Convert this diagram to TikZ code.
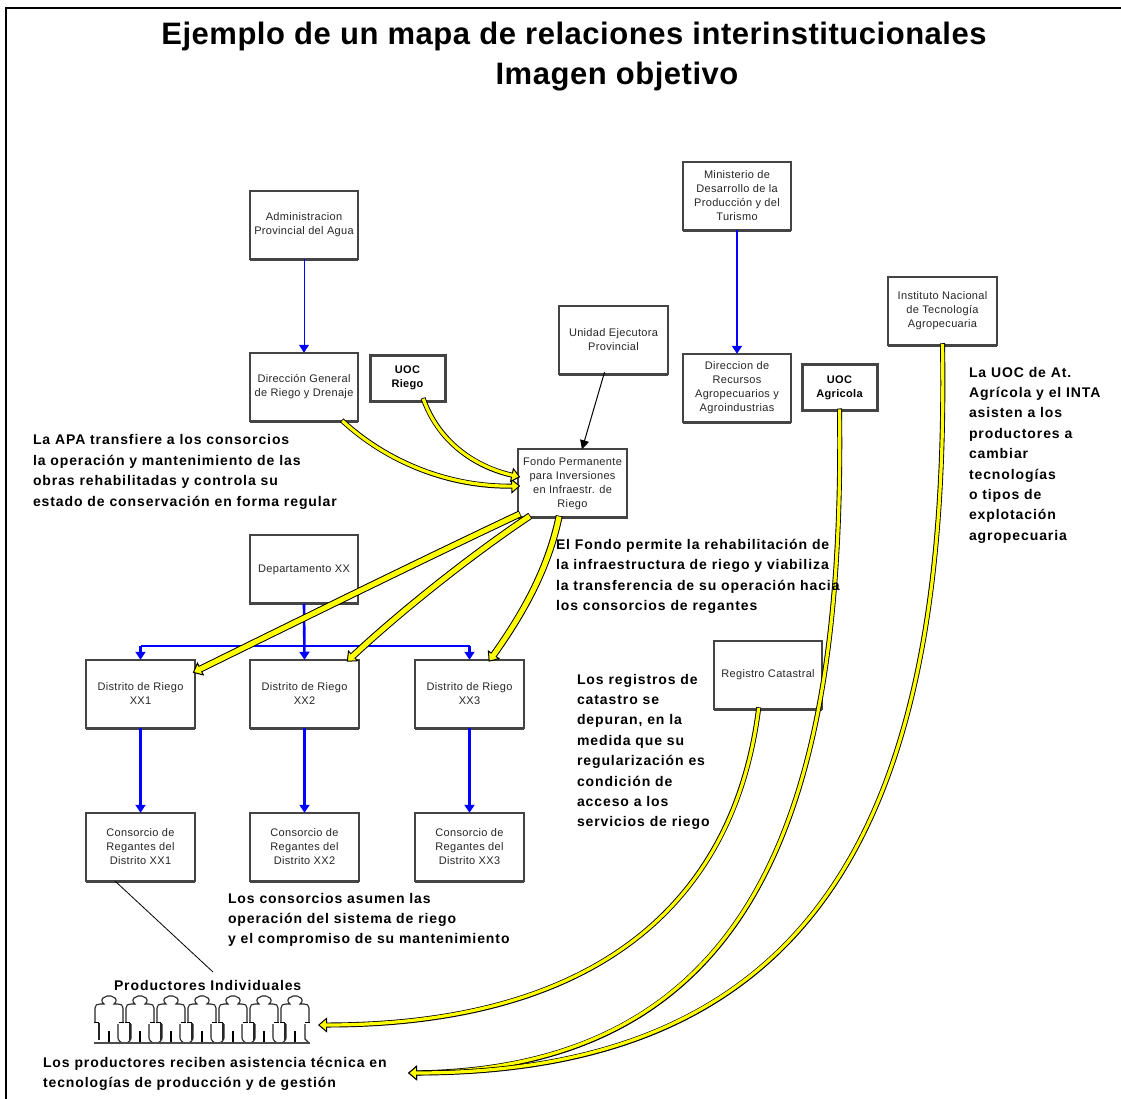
\documentclass[tikz,border=0pt]{standalone}
\usepackage{fontspec}
\usepackage{tikz}
\usetikzlibrary{arrows.meta,calc}
\setmainfont{Liberation Sans}
\newfontfamily\boxf[LetterSpace=3]{Liberation Sans}
\newfontfamily\labf[LetterSpace=6.5]{Liberation Sans}
\newfontfamily\titf[LetterSpace=1.7]{Liberation Sans}
\definecolor{edge}{HTML}{444444}
\definecolor{blu}{HTML}{0000FF}
\definecolor{yel}{HTML}{FFFF00}
\tikzset{
  x=1pt,y=-1pt,
  caja/.style={draw=edge,line width=2.4pt,fill=white,minimum width=108.5pt,minimum height=68.5pt,inner sep=0pt,outer sep=0pt,align=center,text=black!85,font=\boxf\fontsize{11}{14}\selectfont},
  uoc/.style={draw=edge,line width=3pt,fill=white,minimum width=75pt,minimum height=46pt,inner sep=0pt,outer sep=0pt,align=center,font=\boxf\bfseries\fontsize{11}{14}\selectfont},
  lab/.style={inner sep=0pt,outer sep=0pt,align=left,anchor=north west,font=\labf\bfseries\fontsize{14}{20.4}\selectfont},
  tit/.style={inner sep=0pt,anchor=center,font=\titf\bfseries\fontsize{31}{34}\selectfont},
  azul/.style={draw=blu,line width=2.6pt,-{Triangle[length=8pt,width=10pt,fill=blu]}},
  azulsin/.style={draw=blu,line width=2.2pt},
  azulfino/.style={draw=blu,line width=1pt,-{Triangle[length=8pt,width=10pt,fill=blu]}},
  negra/.style={draw=black,line width=1pt,-{Triangle[length=9pt,width=9pt,fill=black]}},
  yout/.style={draw=black,line width=#1,-{Triangle[length=9pt,width=15pt,fill=yel,color=black,line width=1pt]}},
  yin/.style={draw=yel,line width=#1,shorten >=7pt,shorten <=0.8pt},
  peq/.style={draw=black!85,line width=1.1pt},
}
\newcommand{\yarrow}[1]{\draw[yout=5pt] #1; \draw[yin=3.2pt] #1;}
\newcommand{\yarrowg}[1]{\draw[yout=7pt] #1; \draw[yin=5pt] #1;}
\begin{document}
\begin{tikzpicture}
\useasboundingbox (0,0) rectangle (1121,1099);
\fill[white] (0,0) rectangle (1121,1099);
% frame
\coordinate (fa) at (6,1099); \coordinate (fb) at (6,8); \coordinate (fc) at (1121,8);
\draw[black,line width=1.2pt] (fa) -- (fb) -- (fc);
% title
\node[tit] (t1) at (574,36) {Ejemplo de un mapa de relaciones interinstitucionales};
\node[tit] (t2) at (617,77) {Imagen objetivo};
% boxes
\node[caja] (adm) at (304,225) {Administracion\\Provincial del Agua};
\node[caja] (dgr) at (304,387) {Dirección General\\de Riego y Drenaje};
\node[uoc] (uor) at (407.5,378) {UOC\\Riego};
\node[caja] (fon) at (572.5,483.5) {Fondo Permanente\\para Inversiones\\en Infraestr. de\\Riego};
\node[caja] (uni) at (613.5,340) {Unidad Ejecutora\\Provincial};
\node[caja] (min) at (737,196) {Ministerio de\\Desarrollo de la\\Producción y del\\Turismo};
\node[caja] (dre) at (737,388) {Direccion de\\Recursos\\Agropecuarios y\\Agroindustrias};
\node[uoc] (uoa) at (839.5,387.5) {UOC\\Agricola};
\node[caja] (ita) at (942.5,311) {Instituto Nacional\\de Tecnología\\Agropecuaria};
\node[caja] (reg) at (768,675) {Registro Catastral};
\node[caja] (dep) at (304,569.5) {Departamento XX};
\node[caja] (d1) at (140.5,694) {Distrito de Riego\\XX1};
\node[caja] (d2) at (304.5,694) {Distrito de Riego\\XX2};
\node[caja] (d3) at (469.5,694) {Distrito de Riego\\XX3};
\node[caja] (c1) at (140.5,847) {Consorcio de\\Regantes del\\Distrito XX1};
\node[caja] (c2) at (304.5,847) {Consorcio de\\Regantes del\\Distrito XX2};
\node[caja] (c3) at (469.5,847) {Consorcio de\\Regantes del\\Distrito XX3};
% heavier bottom edges
\foreach \n in {adm,dgr,fon,uni,min,dre,ita,reg,dep,d1,d2,d3,c1,c2,c3}
  \draw[edge,line width=2.8pt] (\n.south west) -- (\n.south east);
% blue connectors
\draw[azulfino] (adm.south) -- (dgr.north);
\draw[azul] (min.south) -- (dre.north);
\draw[azul] (d1.south) -- (c1.north);
\draw[azul] (d2.south) -- (c2.north);
\draw[azul] (d3.south) -- (c3.north);
\coordinate (bus1) at (140.5,646);
\coordinate (bus3) at (469.5,646);
\draw[azulsin] (d1.north |- bus1) -- (bus3);
\draw[azul] (dep.south) -- (d2.north);
\draw[azul,line width=2.2pt] (bus1) -- (d1.north);
\draw[azul,line width=2.2pt] (bus3) -- (d3.north);
% black connectors
\draw[negra] ($(uni.south)+(-9,-2)$) -- ($(fon.north)+(9.5,0)$);
\coordinate (pt) at (213,972);
\draw[black,line width=.8pt] ($(c1.south west)+(29,0)$) -- (pt);
% yellow connectors
\coordinate (s1) at ($(dgr.south west)+(92,-1)$);
\coordinate (e1) at ($(fon.west)+(2,2.5)$);
\yarrow{(s1) .. controls (388,463) and (450,487) .. (e1)}
\coordinate (s2) at ($(uor.south west)+(53,-3)$);
\coordinate (e2) at ($(fon.west)+(2,-6.5)$);
\yarrow{(s2) .. controls (440,446) and (480,468) .. (e2)}
\coordinate (s3) at ($(fon.south west)+(2,-4)$);
\coordinate (e3) at ($(d1.north east)+(-2,13)$);
\yarrowg{(s3) .. controls (420,561) and (300,620) .. (e3)}
\coordinate (s4) at ($(fon.south west)+(12,-2)$);
\coordinate (e4) at ($(d2.north east)+(-12,2)$);
\yarrowg{(s4) .. controls (470,556) and (400,612) .. (e4)}
\coordinate (s5) at ($(fon.south west)+(41,-2)$);
\coordinate (e5) at ($(d3.north east)+(-35,2)$);
\yarrowg{(s5) .. controls (548,570) and (522,615) .. (e5)}
\coordinate (pr) at (318,1025);
\coordinate (s6) at ($(reg.south west)+(45,-2)$);
\yarrow{(s6) .. controls (735,900) and (600,1025) .. (pr)}
\coordinate (tx) at (408,1073);
\coordinate (s7) at ($(uoa.south)+(0,-2)$);
\yarrow{(s7) .. controls (845,800) and (760,1068) .. (tx)}
\coordinate (s8) at ($(ita.south)+(0,-2)$);
\yarrow{(s8) .. controls (950,800) and (830,1073) .. (tx)}
% labels
\node[lab,font=\labf\bfseries\fontsize{14}{20.9}\selectfont] (l1) at (33,434) {La APA transfiere a los consorcios\\la operación y mantenimiento de las\\obras rehabilitadas y controla su\\estado de conservación en forma regular};
\node[lab] (l2) at (556,539) {El Fondo permite la rehabilitación de\\la infraestructura de riego y viabiliza\\la transferencia de su operación hacia\\los consorcios de regantes};
\node[lab] (l3) at (577,674) {Los registros de\\catastro se\\depuran, en la\\medida que su\\regularización es\\condición de\\acceso a los\\servicios de riego};
\node[lab] (l4) at (969,367) {La UOC de At.\\Agrícola y el INTA\\asisten a los\\productores a\\cambiar\\tecnologías\\o tipos de\\explotación\\agropecuaria};
\node[lab] (l5) at (228,893) {Los consorcios asumen las\\operación del sistema de riego\\y el compromiso de su mantenimiento};
\node[lab] (l6) at (114,980) {Productores Individuales};
\node[lab] (l7) at (43,1057) {Los productores reciben asistencia técnica en\\tecnologías de producción y de gestión};
% people
\foreach \i in {0,...,6}{
  \begin{scope}[shift={(94+31*\i,996)}]
    \draw[peq] (1,26) -- (1,12) .. controls (1,9) and (3,8) .. (6,8) -- (10,8)
      .. controls (7,6) and (7,2) .. (11,1) -- (13,0) -- (17,0) -- (19,1)
      .. controls (23,2) and (23,6) .. (20,8) -- (24,8)
      .. controls (27,8) and (29,9) .. (29,12) -- (29,26);
    \draw[black,line width=1.6pt] (0,26.5) -- (4.5,26.5) (25,26.5) -- (30,26.5);
    \draw[peq] (5,27) -- (5,44);
    \draw[black,line width=1.2pt] (15,35) -- (15,47);
    \ifnum\i<6
      \draw[peq] (24,28) -- (24,42) .. controls (24,44) and (27,47) .. (29,47) -- (32,47) .. controls (34,47) and (37,44) .. (37,42) -- (37,28);
    \else
      \draw[peq] (25,28) -- (25,43) -- (29,47);
    \fi
  \end{scope}
}
\coordinate (ba) at (94,1043); \coordinate (bb) at (310,1043);
\draw[black!70,line width=1.2pt] (ba) -- (bb);
\end{tikzpicture}
\end{document}
